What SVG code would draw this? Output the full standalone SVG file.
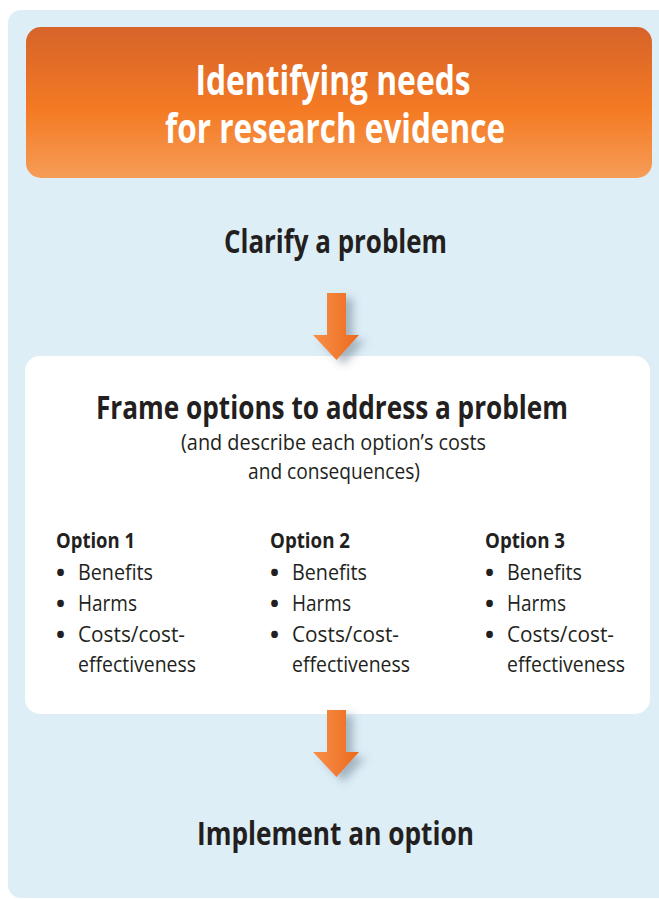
<svg xmlns="http://www.w3.org/2000/svg" width="659" height="899" viewBox="0 0 659 899">
<defs>
<linearGradient id="hdr" x1="0" y1="0" x2="0" y2="1">
<stop offset="0" stop-color="#D6632A"/>
<stop offset="0.55" stop-color="#F47A23"/>
<stop offset="1" stop-color="#F69C58"/>
</linearGradient>
<linearGradient id="arr" x1="0" y1="0" x2="1" y2="0">
<stop offset="0" stop-color="#F79048"/>
<stop offset="1" stop-color="#EC6A1E"/>
</linearGradient>
<filter id="sh" x="-50%" y="-50%" width="200%" height="200%">
<feDropShadow dx="7" dy="5" stdDeviation="4" flood-color="#5A6E80" flood-opacity="0.45"/>
</filter>
<style>
.t{font-family:"Open Sans","Liberation Sans",sans-serif;fill:#231F20}
.b{font-weight:bold}
.w{fill:#FFFFFF}
.h1{font-size:41px}
.h2{font-size:33px}
.s{font-size:21px}
.o{font-size:22px}
.d{font-size:24px;font-weight:bold}
</style>
</defs>
<rect x="8" y="10" width="670" height="888" rx="13" fill="#DDEEF7"/>
<g id="header">
<rect x="26" y="27" width="626" height="151" rx="15" fill="url(#hdr)"/>
<text class="t b w h1" x="333" y="95" text-anchor="middle" textLength="275" lengthAdjust="spacingAndGlyphs">Identifying needs</text>
<text class="t b w h1" x="335" y="143" text-anchor="middle" textLength="340" lengthAdjust="spacingAndGlyphs">for research evidence</text>
</g>
<g id="clarify">
<text class="t b h2" x="335.5" y="253" text-anchor="middle" textLength="223" lengthAdjust="spacingAndGlyphs">Clarify a problem</text>
</g>
<g id="frame">
<rect x="25" y="356" width="625" height="358" rx="15" fill="#FFFFFF"/>
<text class="t b h2" x="332" y="419" text-anchor="middle" textLength="472" lengthAdjust="spacingAndGlyphs">Frame options to address a problem</text>
<text class="t s" x="333.5" y="450" text-anchor="middle" textLength="305" lengthAdjust="spacingAndGlyphs">(and describe each option’s costs</text>
<text class="t s" x="334" y="479" text-anchor="middle" textLength="172" lengthAdjust="spacingAndGlyphs">and consequences)</text>
<g id="option1">
<text class="t b o" x="56" y="548" textLength="79" lengthAdjust="spacingAndGlyphs">Option 1</text>
<text class="t d" x="56" y="581">•</text><text class="t o" x="78" y="580" textLength="75" lengthAdjust="spacingAndGlyphs">Benefits</text>
<text class="t d" x="56" y="612">•</text><text class="t o" x="78" y="611" textLength="59" lengthAdjust="spacingAndGlyphs">Harms</text>
<text class="t d" x="56" y="643">•</text><text class="t o" x="78" y="642" textLength="107" lengthAdjust="spacingAndGlyphs">Costs/cost-</text>
<text class="t o" x="78" y="672" textLength="118" lengthAdjust="spacingAndGlyphs">effectiveness</text>
</g>
<g id="option2">
<text class="t b o" x="270" y="548" textLength="80" lengthAdjust="spacingAndGlyphs">Option 2</text>
<text class="t d" x="270" y="581">•</text><text class="t o" x="292" y="580" textLength="75" lengthAdjust="spacingAndGlyphs">Benefits</text>
<text class="t d" x="270" y="612">•</text><text class="t o" x="292" y="611" textLength="59" lengthAdjust="spacingAndGlyphs">Harms</text>
<text class="t d" x="270" y="643">•</text><text class="t o" x="292" y="642" textLength="107" lengthAdjust="spacingAndGlyphs">Costs/cost-</text>
<text class="t o" x="292" y="672" textLength="118" lengthAdjust="spacingAndGlyphs">effectiveness</text>
</g>
<g id="option3">
<text class="t b o" x="485" y="548" textLength="80" lengthAdjust="spacingAndGlyphs">Option 3</text>
<text class="t d" x="485" y="581">•</text><text class="t o" x="507" y="580" textLength="75" lengthAdjust="spacingAndGlyphs">Benefits</text>
<text class="t d" x="485" y="612">•</text><text class="t o" x="507" y="611" textLength="59" lengthAdjust="spacingAndGlyphs">Harms</text>
<text class="t d" x="485" y="643">•</text><text class="t o" x="507" y="642" textLength="107" lengthAdjust="spacingAndGlyphs">Costs/cost-</text>
<text class="t o" x="507" y="672" textLength="118" lengthAdjust="spacingAndGlyphs">effectiveness</text>
</g>
</g>
<g id="implement">
<text class="t b h2" x="335.5" y="845" text-anchor="middle" textLength="277" lengthAdjust="spacingAndGlyphs">Implement an option</text>
</g>
<g id="connectors">
<path d="M327 293 H346 V335 H359 L336.5 360 L313 335 H327 Z" fill="url(#arr)" filter="url(#sh)"/>
<path d="M327 710 H346 V752 H359 L336.5 777 L313 752 H327 Z" fill="url(#arr)" filter="url(#sh)"/>
</g>
</svg>
